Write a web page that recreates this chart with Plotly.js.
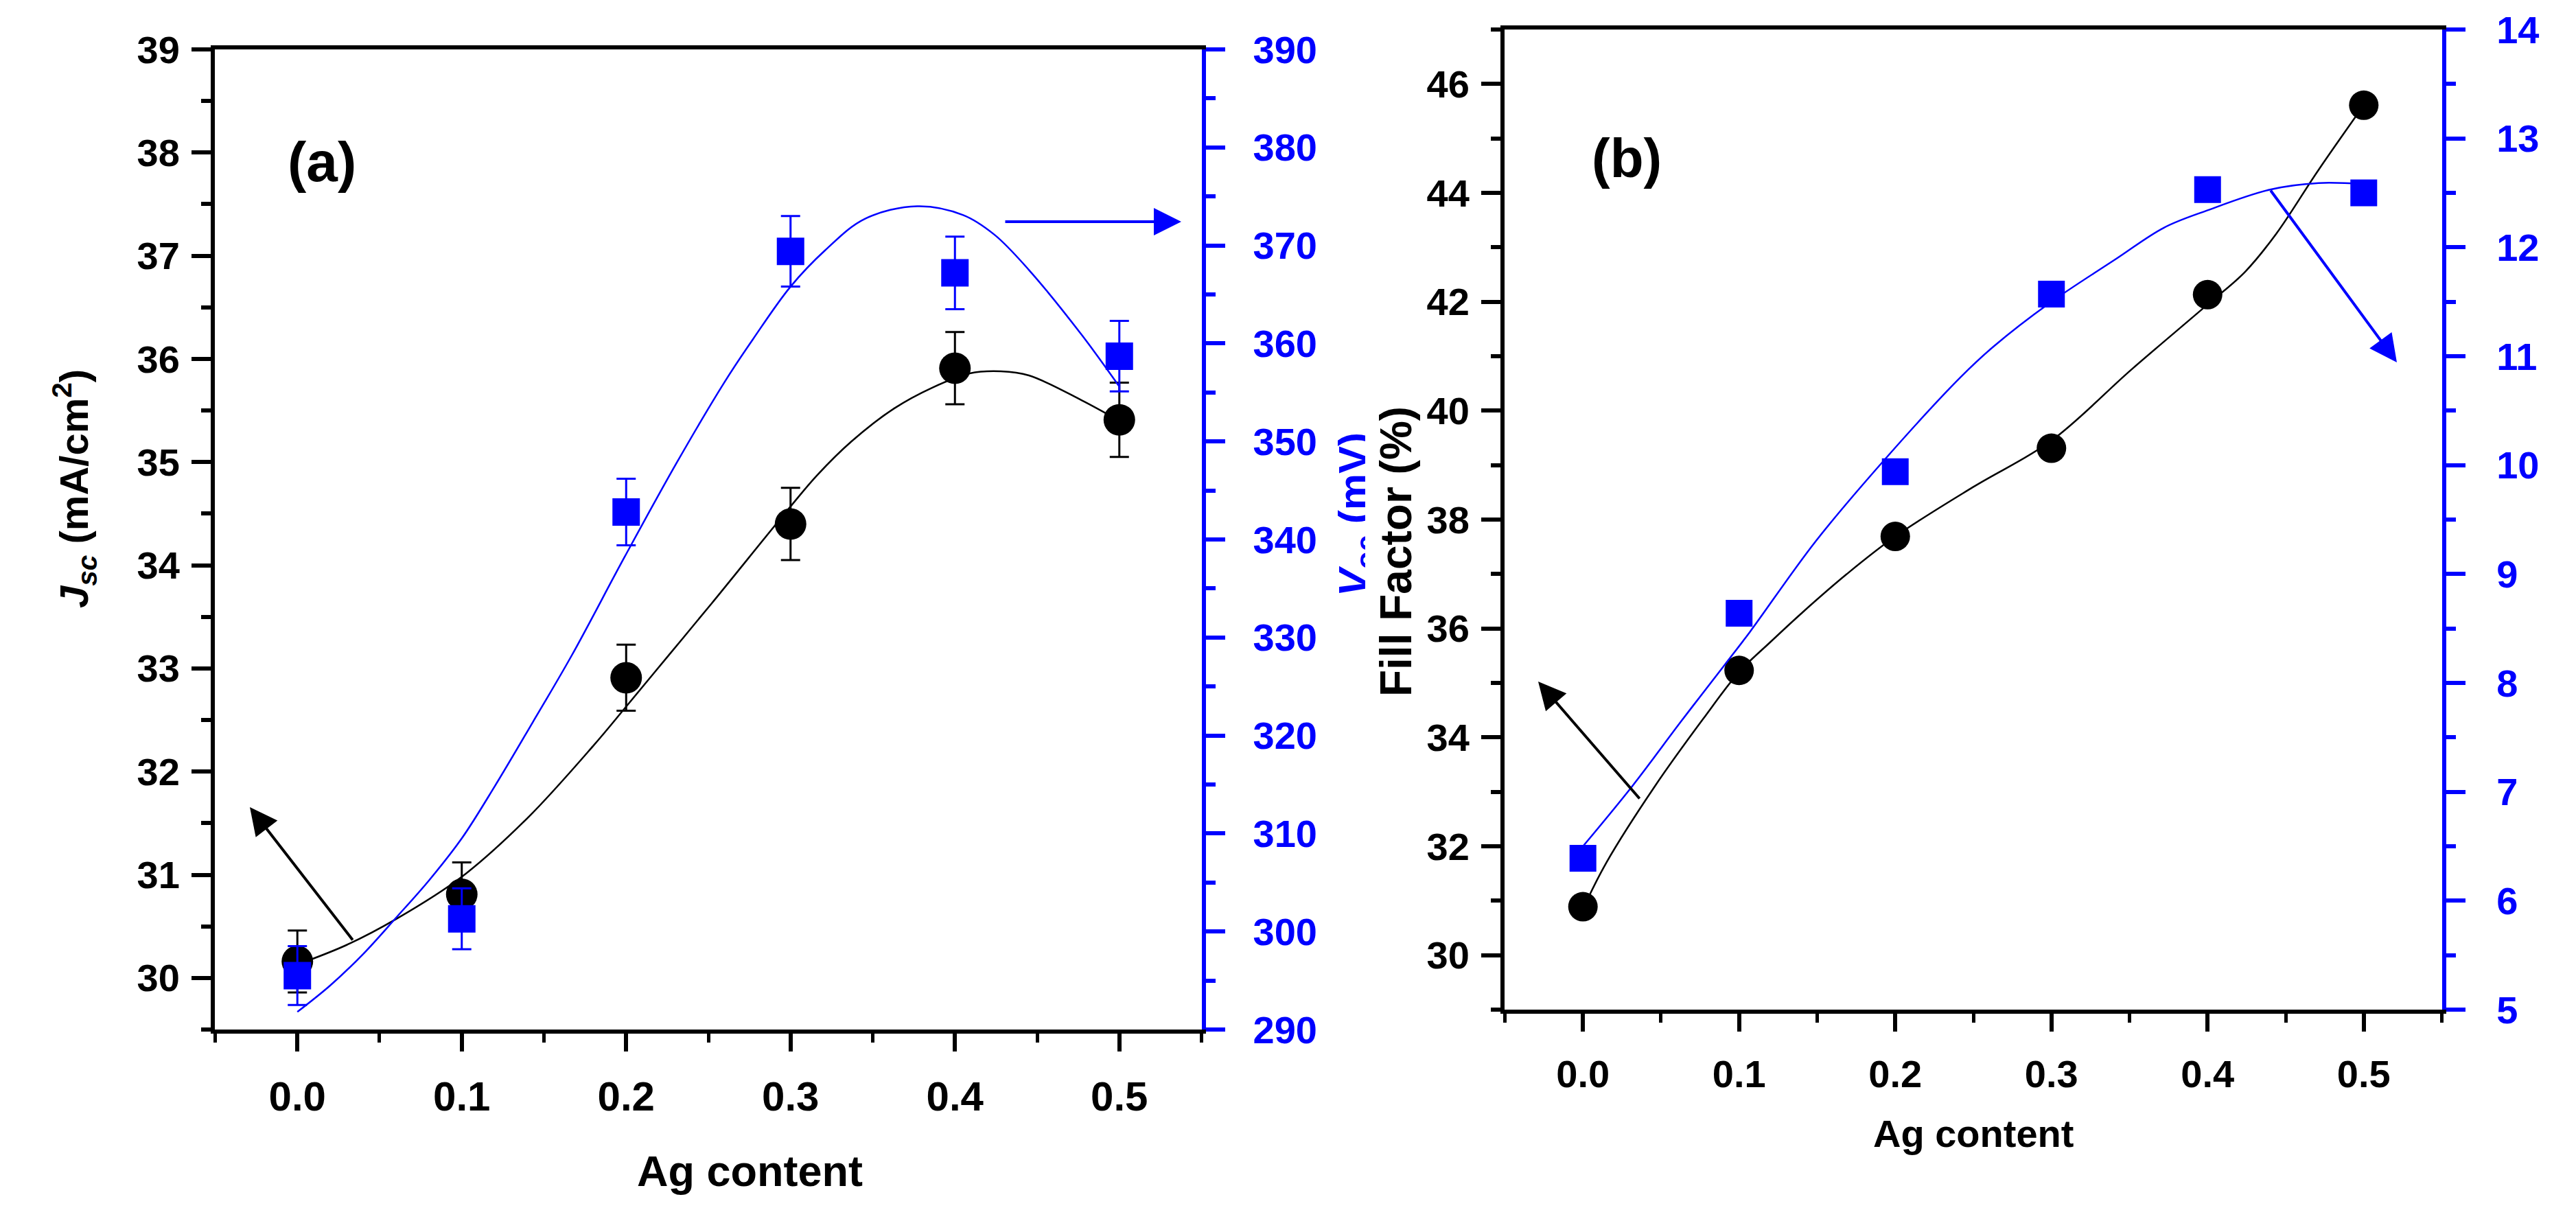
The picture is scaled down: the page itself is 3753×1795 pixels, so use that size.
<!DOCTYPE html>
<html>
<head>
<meta charset="utf-8">
<script src="https://cdn.plot.ly/plotly-3.0.1.min.js"></script>
<style>html,body{margin:0;padding:0;background:#fff;}#chart{width:3753px;height:1795px;}</style>
</head>
<body>
<div id="chart"></div>
<script>
// ---------- data ----------
const agContent = [0.0, 0.1, 0.2, 0.3, 0.4, 0.5];

// panel (a)
const jscValues = [30.16, 30.81, 32.91, 34.40, 35.91, 35.41];
const jscErrors = [0.30, 0.31, 0.32, 0.35, 0.35, 0.36];
const vocValues = [295.5, 301.3, 342.8, 369.4, 367.2, 358.7];
const vocErrors = [3.0, 3.1, 3.4, 3.6, 3.7, 3.6];

const jscFitX = [0.00, 0.03, 0.06, 0.10, 0.14, 0.18, 0.20, 0.226, 0.252, 0.30, 0.316, 0.337, 0.363, 0.386, 0.409, 0.428, 0.445, 0.477, 0.50];
const jscFitY = [30.13, 30.32, 30.57, 30.98, 31.55, 32.25, 32.63, 33.13, 33.63, 34.57, 34.87, 35.20, 35.52, 35.72, 35.86, 35.88, 35.84, 35.60, 35.40];

const vocFitX = [0.00, 0.02, 0.04, 0.06, 0.08, 0.10, 0.12, 0.143, 0.167, 0.199, 0.231, 0.26, 0.277, 0.30, 0.321, 0.345, 0.377, 0.405, 0.424, 0.445, 0.477, 0.50];
const vocFitY = [291.8, 294.5, 297.7, 301.4, 305.2, 309.5, 314.8, 321.3, 328.2, 338.2, 347.9, 356.1, 360.4, 365.8, 369.5, 372.7, 374.0, 373.1, 371.1, 367.5, 360.9, 355.6];

// panel (b)
const ffValues = [30.89, 35.23, 37.69, 39.31, 42.13, 45.61];
const rightBValues = [6.39, 8.64, 9.94, 11.57, 12.53, 12.50];

const ffFitX = [0.00, 0.015, 0.046, 0.077, 0.10, 0.12, 0.14, 0.169, 0.20, 0.25, 0.30, 0.351, 0.40, 0.424, 0.444, 0.471, 0.50];
const ffFitY = [30.85, 31.70, 33.10, 34.34, 35.20, 35.75, 36.28, 37.00, 37.69, 38.60, 39.45, 40.75, 41.95, 42.55, 43.25, 44.42, 45.61];

const rbFitX = [0.00, 0.032, 0.063, 0.091, 0.107, 0.149, 0.195, 0.242, 0.263, 0.299, 0.341, 0.372, 0.40, 0.44, 0.471, 0.50];
const rbFitY = [6.50, 7.06, 7.65, 8.17, 8.47, 9.30, 10.08, 10.81, 11.09, 11.49, 11.89, 12.18, 12.34, 12.53, 12.59, 12.58];

const xTickVals = [0.0, 0.1, 0.2, 0.3, 0.4, 0.5];
const xTickText = ['0.0', '0.1', '0.2', '0.3', '0.4', '0.5'];

// ---------- layout helpers ----------
const W = 3753, H = 1795;
const px = v => v / W;
const py = v => 1 - v / H;
const FONT = 'Liberation Sans, Arial, Helvetica, sans-serif';
const BLUE = '#0000ff';

function tf(size, color) { return {family: FONT, size: size, color: color, weight: 'bold'}; }

function xAxis(domain, anchor, fs) {
  return {
    domain: domain, anchor: anchor, range: [-0.0502, 0.5502],
    tickmode: 'array', tickvals: xTickVals, ticktext: xTickText,
    ticks: 'outside', ticklen: 26, tickwidth: 6, tickcolor: 'black',
    minor: {ticks: 'outside', ticklen: 13, tickwidth: 5, tickcolor: 'black', tickmode: 'linear', tick0: 0, dtick: 0.05, showgrid: false},
    showline: true, linewidth: 6, linecolor: 'black', mirror: true,
    showgrid: false, zeroline: false, tickfont: tf(fs, 'black'), ticklabelstandoff: 14
  };
}
function yAxis(domain, anchor, range, dtick, mdtick, color, side, overlay, prefix) {
  const a = {
    anchor: anchor, range: range, tickmode: 'linear', tick0: 0, dtick: dtick,
    ticks: 'outside', ticklen: 28, tickwidth: 6, tickcolor: color,
    minor: {ticks: 'outside', ticklen: 14, tickwidth: 6, tickcolor: color, tickmode: 'linear', tick0: 0, dtick: mdtick, showgrid: false},
    showline: true, linewidth: 6, linecolor: color, mirror: false,
    showgrid: false, zeroline: false, tickfont: tf(56, color), side: side, ticklabelstandoff: 6,
    tickprefix: prefix || ''
  };
  if (overlay) { a.overlaying = overlay; } else { a.domain = domain; }
  return a;
}

const domXA = [px(313), px(1751)], domYA = [py(1500), py(72)];
const domXB = [px(2192), px(3558)], domYB = [py(1471), py(43)];

const traces = [
  {x: jscFitX, y: jscFitY, xaxis: 'x', yaxis: 'y', mode: 'lines', line: {color: 'black', width: 2.5, shape: 'spline', smoothing: 1}, hoverinfo: 'skip', name: 'Jsc fit'},
  {x: agContent, y: jscValues, xaxis: 'x', yaxis: 'y', mode: 'markers', name: 'Jsc',
   marker: {symbol: 'circle', size: 46, color: 'black'},
   error_y: {type: 'data', array: jscErrors, visible: true, color: 'black', thickness: 3, width: 14}},
  {x: vocFitX, y: vocFitY, xaxis: 'x', yaxis: 'y2', mode: 'lines', line: {color: BLUE, width: 2.5, shape: 'spline', smoothing: 1}, hoverinfo: 'skip', name: 'Voc fit'},
  {x: agContent, y: vocValues, xaxis: 'x', yaxis: 'y2', mode: 'markers', name: 'Voc',
   marker: {symbol: 'square', size: 40, color: BLUE},
   error_y: {type: 'data', array: vocErrors, visible: true, color: BLUE, thickness: 3, width: 14}},

  {x: ffFitX, y: ffFitY, xaxis: 'x2', yaxis: 'y3', mode: 'lines', line: {color: 'black', width: 2.5, shape: 'spline', smoothing: 1}, hoverinfo: 'skip', name: 'FF fit'},
  {x: agContent, y: ffValues, xaxis: 'x2', yaxis: 'y3', mode: 'markers', name: 'Fill Factor',
   marker: {symbol: 'circle', size: 43, color: 'black'}},
  {x: rbFitX, y: rbFitY, xaxis: 'x2', yaxis: 'y4', mode: 'lines', line: {color: BLUE, width: 2.5, shape: 'spline', smoothing: 1}, hoverinfo: 'skip', name: 'right fit'},
  {x: agContent, y: rightBValues, xaxis: 'x2', yaxis: 'y4', mode: 'markers', name: 'right axis series',
   marker: {symbol: 'square', size: 39, color: BLUE}}
];

function label(text, x, y, size, color, angle) {
  return {text: text, xref: 'paper', yref: 'paper', x: px(x), y: py(y), xanchor: 'center', yanchor: 'middle',
          showarrow: false, font: tf(size, color || 'black'), textangle: angle || 0};
}
function arrow(tipX, tipY, tailX, tailY, color) {
  return {text: '', xref: 'paper', yref: 'paper', x: px(tipX), y: py(tipY), ax: tailX - tipX, ay: tailY - tipY,
          showarrow: true, arrowhead: 2, arrowsize: 2.0, arrowwidth: 4, arrowcolor: color};
}

const annotations = [
  label('(a)', 469, 235, 82),
  label('(b)', 2370, 230, 80),
  label('Ag content', 1092, 1706, 63),
  label('Ag content', 2875, 1651, 56),
  label('<i>J</i><sub><i>sc</i></sub> (mA/cm<sup>2</sup>)', 108, 712, 58, 'black', -90),
  label('<i>V</i><sub>oc</sub> (mV)', 1976, 750, 60, BLUE, -90),
  {text: ' ', xref: 'paper', yref: 'paper', x: px(2001), y: py(750), xanchor: 'center', yanchor: 'middle',
   showarrow: false, width: 24, height: 460, bgcolor: '#ffffff', borderpad: 0, borderwidth: 0},
  label('Fill Factor (%)', 2034, 803, 64, 'black', -90),
  arrow(364, 1176, 515, 1371, 'black'),
  arrow(1721, 323, 1463, 323, BLUE),
  arrow(2241, 993, 2390, 1165, 'black'),
  arrow(3492, 528, 3307, 276, BLUE)
];

const layout = {
  width: W, height: H,
  margin: {l: 0, r: 0, t: 0, b: 0, pad: 0},
  paper_bgcolor: '#ffffff', plot_bgcolor: '#ffffff',
  showlegend: false,
  font: {family: FONT, color: 'black'},
  xaxis: xAxis(domXA, 'y', 60),
  yaxis: yAxis(domYA, 'x', [29.5, 39], 1, 0.5, 'black', 'left', null, ''),
  yaxis2: yAxis(null, 'x', [290, 390], 10, 5, BLUE, 'right', 'y', '\u2005\u2006'),
  xaxis2: xAxis(domXB, 'y3', 56),
  yaxis3: yAxis(domYB, 'x2', [29, 47], 2, 1, 'black', 'left', null, ''),
  yaxis4: yAxis(null, 'x2', [5, 14], 1, 0.5, BLUE, 'right', 'y3', '\u2002'),
  annotations: annotations
};

Plotly.newPlot('chart', traces, layout, {staticPlot: true, displayModeBar: false});
</script>
</body>
</html>
